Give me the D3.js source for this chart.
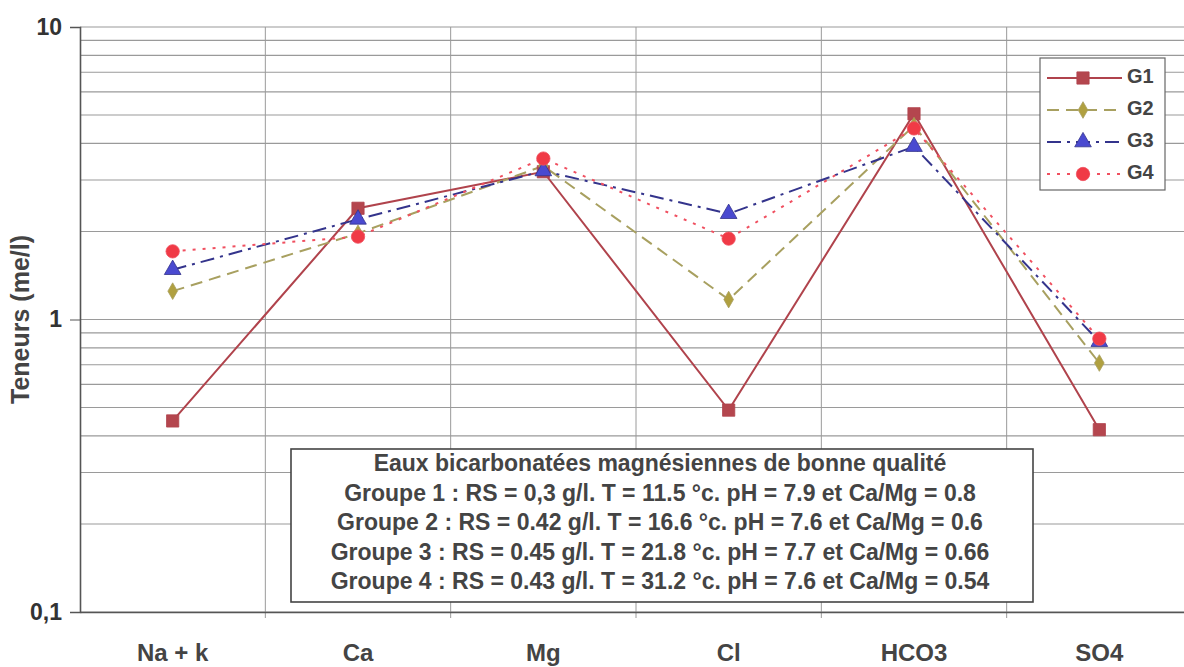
<!DOCTYPE html>
<html><head><meta charset="utf-8">
<script src="https://cdn.jsdelivr.net/npm/d3@7/dist/d3.min.js"></script>
<style>body{margin:0;background:#fff}svg{display:block}</style>
</head><body>
<svg id="chart" width="1184" height="667"></svg>
<script>
const categories = ["Na + k", "Ca", "Mg", "Cl", "HCO3", "SO4"];
const seriesNames = ["G1", "G2", "G3", "G4"];
const g1 = [0.45, 2.4, 3.2, 0.49, 5.05, 0.42];
const g2 = [1.25, 1.97, 3.35, 1.17, 4.6, 0.71];
const g3 = [1.48, 2.2, 3.22, 2.3, 3.9, 0.84];
const g4 = [1.71, 1.92, 3.55, 1.89, 4.5, 0.86];
const yTickValues = [0.1, 1, 10];
const yTickLabels = ["0,1", "1", "10"];
const boxLines = [
  "Eaux bicarbonatées magnésiennes de bonne qualité",
  "Groupe 1 : RS = 0,3 g/l. T = 11.5 °c. pH = 7.9 et Ca/Mg = 0.8",
  "Groupe 2 : RS = 0.42 g/l. T = 16.6 °c. pH = 7.6 et Ca/Mg = 0.6",
  "Groupe 3 : RS = 0.45 g/l. T = 21.8 °c. pH = 7.7 et Ca/Mg = 0.66",
  "Groupe 4 : RS = 0.43 g/l. T = 31.2 °c. pH = 7.6 et Ca/Mg = 0.54"
];

(function () {
const seriesData = [g1, g2, g3, g4];
const styles = [
  {line:"#b0434c", fill:"#b4464e", dash:null, shape:d3.symbolSquare, size:150},
  {line:"#a8a060", fill:"#b0a040", dash:"12,7", shape:d3.symbolDiamond, size:80},
  {line:"#34348c", fill:"#4a4ad0", dash:"14,6,3,6", shape:d3.symbolTriangle, size:120},
  {line:"#f05060", fill:"#f03a46", dash:"3,7", shape:d3.symbolCircle, size:140}
];

const svg = d3.select("#chart");
const font = "'Liberation Sans', Arial, sans-serif";
const pLeft = 80, pRight = 1192, pTop = 27, pBottom = 612;

const x = d3.scaleBand().domain(categories).range([pLeft, pRight]);
const y = d3.scaleLog().domain([0.1, 10]).range([pBottom, pTop]);

// horizontal gridlines
const minor = [];
[0.1, 1].forEach(d => { for (let k = 1; k <= 10; k++) minor.push(d * k); });
const gridVals = Array.from(new Set(minor.map(v => +v.toPrecision(3))));
svg.append("g").selectAll("line").data(gridVals).join("line")
  .attr("x1", pLeft).attr("x2", 1184)
  .attr("y1", d => y(d)).attr("y2", d => y(d))
  .attr("stroke", "#9a9a9a").attr("stroke-width", 1.1);

// vertical gridlines at category boundaries
svg.append("g").selectAll("line").data(categories.slice(1)).join("line")
  .attr("x1", d => x(d)).attr("x2", d => x(d))
  .attr("y1", pTop).attr("y2", pBottom + 6)
  .attr("stroke", "#9a9a9a").attr("stroke-width", 1);

// axes
const yAxis = d3.axisLeft(y).tickValues(yTickValues)
  .tickFormat((d, i) => yTickLabels[i]).tickSize(10).tickPadding(8);
const gy = svg.append("g").attr("transform", `translate(${pLeft},0)`).call(yAxis);
gy.select(".domain").attr("stroke", "#555").attr("stroke-width", 1.6);
gy.selectAll(".tick line").attr("stroke", "#555");
gy.selectAll("text").attr("font-family", font).attr("font-weight", "bold")
  .attr("font-size", 23).attr("fill", "#333");

const xAxis = d3.axisBottom(x).tickSize(0).tickPadding(32);
const gx = svg.append("g").attr("transform", `translate(0,${pBottom})`).call(xAxis);
gx.select(".domain").attr("stroke", "#555").attr("stroke-width", 1.6);
gx.selectAll("text").attr("font-family", font).attr("font-weight", "bold")
  .attr("font-size", 24).attr("fill", "#444");

svg.append("text").attr("transform", `translate(22,${(pTop+pBottom)/2}) rotate(-90)`)
  .attr("text-anchor", "middle").attr("dominant-baseline", "middle")
  .attr("font-family", font).attr("font-weight", "bold").attr("font-size", 25)
  .attr("fill", "#444").text("Teneurs (me/l)");

// series
const cx = d => x(d) + x.bandwidth() / 2;
const line = d3.line().x((d, i) => cx(categories[i])).y(d => y(d));
seriesData.forEach((vals, s) => {
  const st = styles[s];
  svg.append("path").datum(vals).attr("d", line)
    .attr("fill", "none").attr("stroke", st.line).attr("stroke-width", 2)
    .attr("stroke-dasharray", st.dash);
});
seriesData.forEach((vals, s) => {
  const st = styles[s];
  svg.append("g").selectAll("path").data(vals).join("path")
    .attr("d", d3.symbol().type(st.shape).size(st.size))
    .attr("transform", (d, i) => `translate(${cx(categories[i])},${y(d)})`)
    .attr("fill", st.fill).attr("stroke", st.line).attr("stroke-width", 0.8);
});

// legend
const lg = svg.append("g");
lg.append("rect").attr("x", 1040).attr("y", 58).attr("width", 125).attr("height", 132)
  .attr("fill", "#fff").attr("stroke", "#666").attr("stroke-width", 1.2);
seriesNames.forEach((n, s) => {
  const st = styles[s];
  const yy = 78 + s * 32;
  lg.append("line").attr("x1", 1047).attr("x2", 1122).attr("y1", yy).attr("y2", yy)
    .attr("stroke", st.line).attr("stroke-width", 2).attr("stroke-dasharray", st.dash);
  lg.append("path").attr("d", d3.symbol().type(st.shape).size(st.size)())
    .attr("transform", `translate(1083,${yy})`)
    .attr("fill", st.fill).attr("stroke", st.line).attr("stroke-width", 0.8);
  lg.append("text").attr("x", 1127).attr("y", yy).attr("dominant-baseline", "middle")
    .attr("font-family", font).attr("font-weight", "bold").attr("font-size", 20)
    .attr("fill", "#444").text(n);
});

// annotation box
const bx = svg.append("g");
bx.append("rect").attr("x", 291).attr("y", 449).attr("width", 742).attr("height", 153)
  .attr("fill", "#fff").attr("stroke", "#444").attr("stroke-width", 1.6);
boxLines.forEach((t, i) => {
  bx.append("text").attr("x", 660).attr("y", 465 + i * 29.5)
    .attr("text-anchor", "middle").attr("dominant-baseline", "middle")
    .attr("font-family", font).attr("font-weight", "bold").attr("font-size", 23)
    .attr("fill", "#444").text(t);
});
})();
</script>
</body></html>
